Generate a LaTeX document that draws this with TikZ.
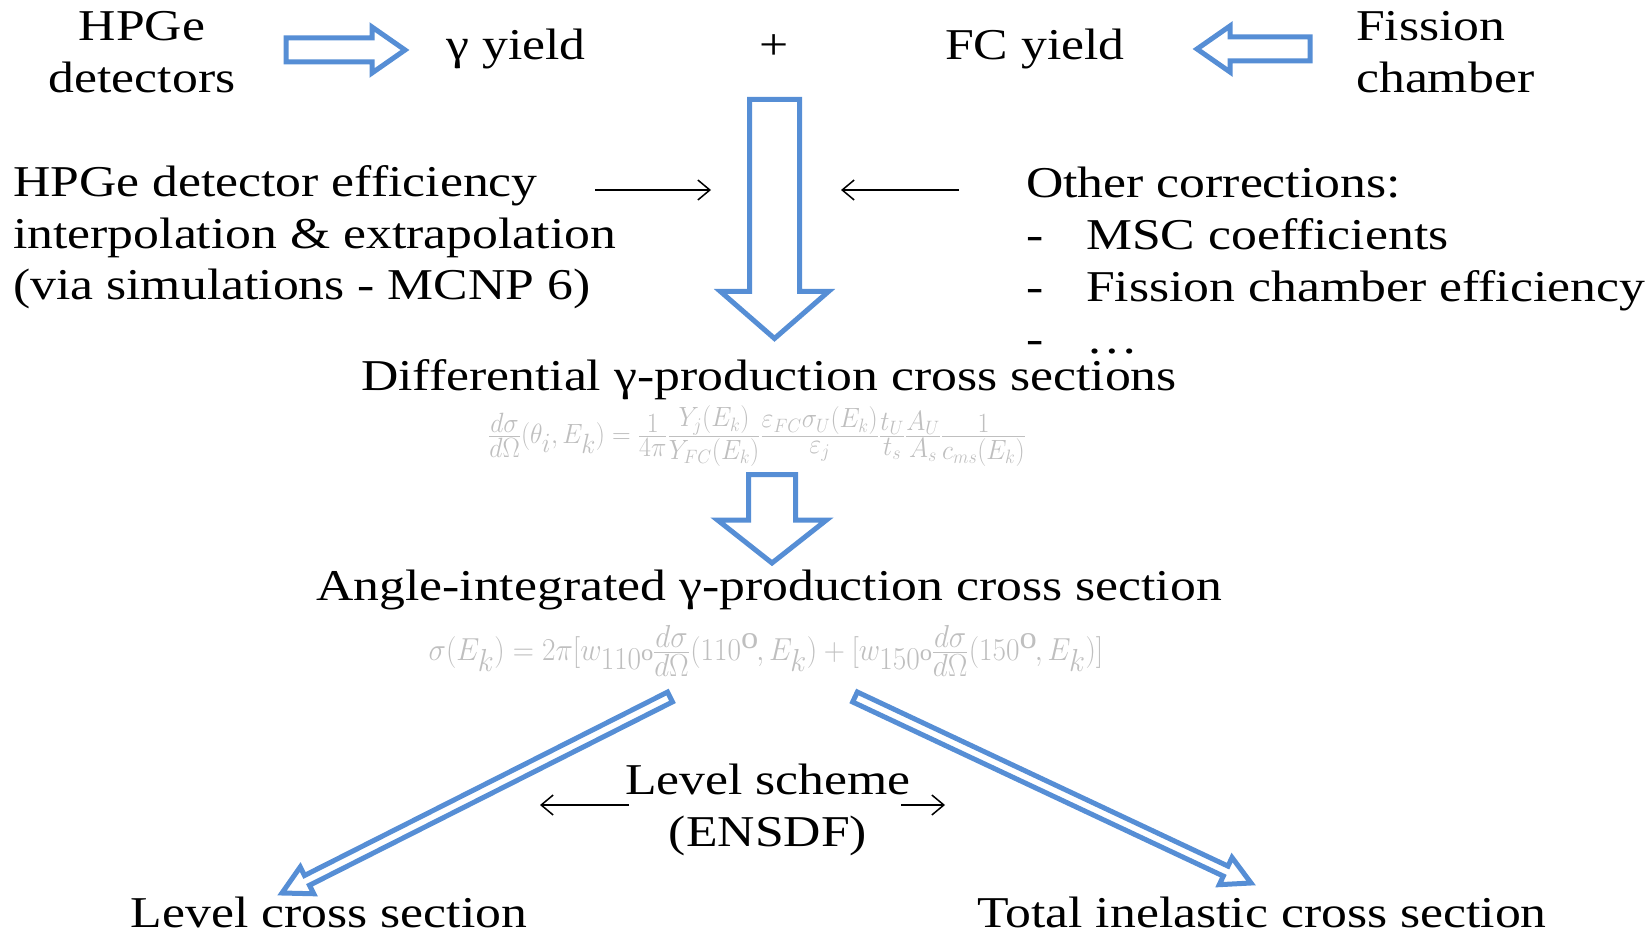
\documentclass[tikz,border=0pt]{standalone}
\usepackage{amsmath}
\usepackage{graphicx}
\usepackage{fontspec}
\setmainfont[FakeStretch=1.175]{Liberation Serif}
\usetikzlibrary{calc,arrows.meta}

\definecolor{arrowblue}{RGB}{86,142,213}
\definecolor{eqgray}{RGB}{191,191,191}

% hollow block arrow: tail, tip, shaft half-width, head half-width, head length
\newcommand{\hollowarrow}[5]{%
  \coordinate (hb) at ($(#2)!#5!(#1)$);
  \draw[blockarrow]
    ($(#1)!#3!90:(#2)$) -- ($(hb)!#3!90:(#2)$) -- ($(hb)!#4!90:(#2)$) --
    (#2) -- ($(hb)!#4!-90:(#2)$) -- ($(hb)!#3!-90:(#2)$) --
    ($(#1)!#3!-90:(#2)$) -- cycle;}

\begin{document}
\begin{tikzpicture}[x=1pt,y=-1pt,
  txt/.style={font=\fontsize{44}{52}\selectfont, inner sep=0pt, align=left},
  ctxt/.style={txt, align=center},
  eqn/.style={text=eqgray, inner sep=0pt, font=\fontsize{35.5}{40}\selectfont},
  blockarrow/.style={draw=arrowblue, line width=5pt, line join=miter, fill=white},
  thin/.style={draw=black, line width=1.5pt, -{Straight Barb[length=12pt,width=20pt,line width=1.5pt]}}]
\useasboundingbox (0,0) rectangle (1652,933);

% top row (multi-line nodes are placed by the baseline of their last line)
\node[ctxt, anchor=base] (hpge) at (142,93) {HPGe\\detectors};
\node[txt, anchor=base] (gyield) at (516,60) {γ yield};
\node[txt, anchor=base] (plus) at (774,60) {+};
\node[txt, anchor=base] (fcyield) at (1035,60) {FC yield};
\node[txt, anchor=base west] (fission) at (1356,93) {Fission\\chamber};

\coordinate (a1t) at (286,50);
\coordinate (a1h) at (405,50);
\hollowarrow{a1t}{a1h}{12pt}{23pt}{33pt}
\coordinate (a2t) at (1310,49);
\coordinate (a2h) at (1197,49);
\hollowarrow{a2t}{a2h}{12pt}{23pt}{33pt}

% main vertical arrow
\coordinate (a3t) at (774.5,99.5);
\coordinate (a3h) at (774.5,338.5);
\hollowarrow{a3t}{a3h}{25pt}{54pt}{47pt}

% side inputs
\node[txt, anchor=base west] (eff) at (13,300)
  {HPGe detector efficiency\\interpolation \& extrapolation\\(via simulations - MCNP 6)};
\node[txt, anchor=base west] (corr) at (1026,353)
  {Other corrections:\\\makebox[60pt][l]{-}MSC coefficients\\\makebox[60pt][l]{-}Fission chamber efficiency\\\makebox[60pt][l]{-}\ldots};
\coordinate (e1) at (595,190);
\coordinate (e2) at (711,190);
\draw[thin] (e1) -- (e2);
\coordinate (c1) at (959,190);
\coordinate (c2) at (841,190);
\draw[thin] (c1) -- (c2);

% differential cross sections
\node[txt, anchor=base] (diff) at (769,390) {Differential γ-production cross sections};
\node[eqn] (eq1) at (757,436)
  {\scalebox{1.04}[1.12]{$\textstyle\frac{d\sigma}{d\Omega}(\theta_i,E_k)=\frac{1}{4\pi}\frac{Y_j(E_k)}{Y_{FC}(E_k)}\frac{\varepsilon_{FC}\sigma_U(E_k)}{\varepsilon_j}\frac{t_U}{t_s}\frac{A_U}{A_s}\frac{1}{c_{ms}(E_k)}$}};

\coordinate (a4t) at (772,474.5);
\coordinate (a4h) at (772,563);
\hollowarrow{a4t}{a4h}{23.5pt}{54.5pt}{43pt}

% angle-integrated cross section
\node[txt, anchor=base] (angint) at (769,600) {Angle-integrated γ-production cross section};
\node[eqn] (eq2) at (766,651)
  {\scalebox{1.18}[1.28]{$\textstyle\sigma(E_k)=2\pi[w_{110^{\mathrm{o}}}\frac{d\sigma}{d\Omega}(110^{\mathrm{o}},E_k)+[w_{150^{\mathrm{o}}}\frac{d\sigma}{d\Omega}(150^{\mathrm{o}},E_k)]$}};

% branches
\coordinate (a5t) at (670,697);
\coordinate (a5h) at (282,893);
\hollowarrow{a5t}{a5h}{5.5pt}{15pt}{28pt}
\coordinate (a6t) at (855,697);
\coordinate (a6h) at (1251,883);
\hollowarrow{a6t}{a6h}{5.5pt}{15pt}{28pt}

\node[ctxt, anchor=base] (level) at (768,846) {Level scheme\\(ENSDF)};
\coordinate (l1) at (629,805);
\coordinate (l2) at (540,805);
\draw[thin] (l1) -- (l2);
\coordinate (r1) at (901,805);
\coordinate (r2) at (945,805);
\draw[thin] (r1) -- (r2);

\node[txt, anchor=base] (lcs) at (329,927) {Level cross section};
\node[txt, anchor=base] (tics) at (1262,927) {Total inelastic cross section};
\end{tikzpicture}
\end{document}
